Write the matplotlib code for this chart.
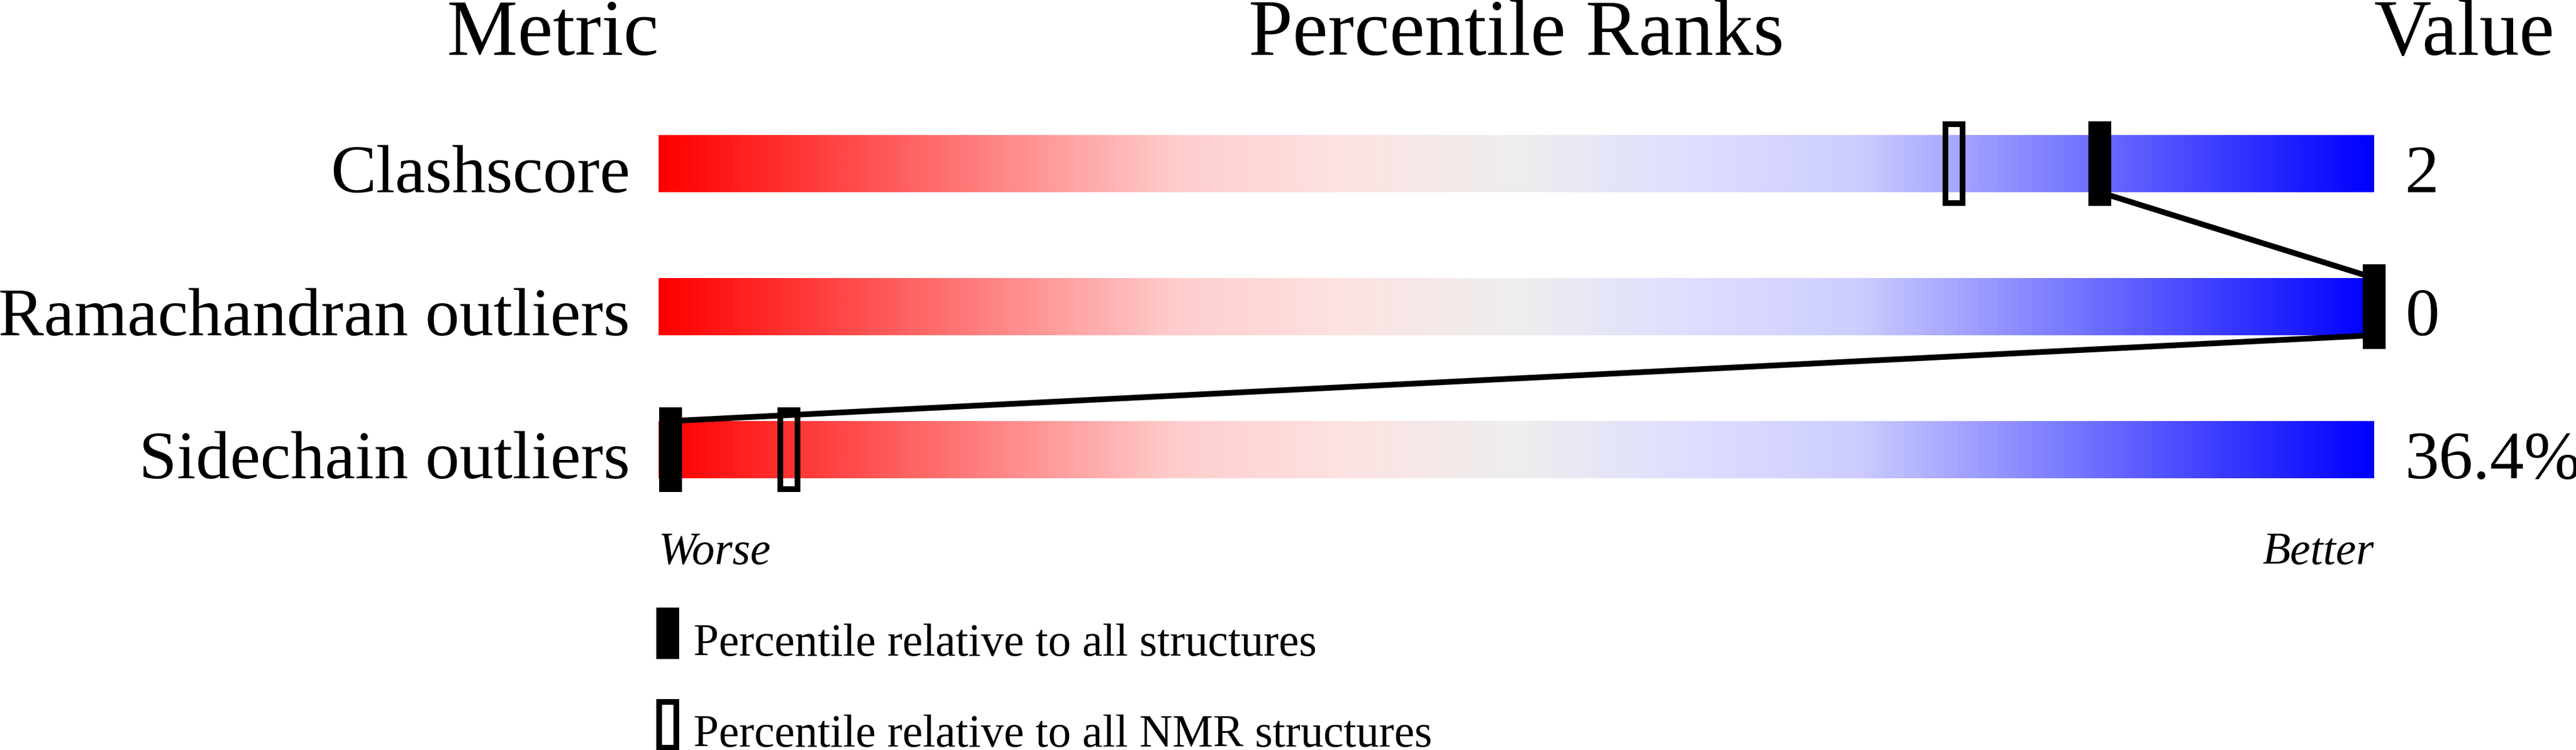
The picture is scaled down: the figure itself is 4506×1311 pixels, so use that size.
import numpy as np
import matplotlib
matplotlib.use("Agg")
import matplotlib.pyplot as plt
from matplotlib.patches import Rectangle
from matplotlib.colors import LinearSegmentedColormap

# ---- data ----
metrics = ["Clashscore", "Ramachandran outliers", "Sidechain outliers"]
values = ["2", "0", "36.4%"]
pct_all = [84, 100, 0.7]
pct_nmr = [75.5, 100, 7.6]
headers = ["Metric", "Percentile Ranks", "Value"]
legend_labels = ["Percentile relative to all structures",
                 "Percentile relative to all NMR structures"]

# ---- figure in pixel-like layout ----
W, H, DPI = 4506, 1311, 100
fig = plt.figure(figsize=(W / DPI, H / DPI), dpi=DPI)
ax = fig.add_axes([0, 0, 1, 1])
ax.axis("off")

bar_l, bar_r = 1152, 4153
pxu = (bar_r - bar_l) / 100.0          # pixels per percentile unit
row0, rowstep = 286, 250              # row centre / spacing in px
ax.set_xlim(-bar_l / pxu, (W - bar_l) / pxu)
ax.set_ylim((H - row0) / rowstep, -row0 / rowstep)

def px_x(n):
    return n / pxu

def px_y(n):
    return n / rowstep

font = "Liberation Serif"
bar_h = px_y(100)
mk_w, mk_h = px_x(40), px_y(148)
lw_px = 10
lw_pt = lw_px * 72 / DPI

cmap = LinearSegmentedColormap.from_list("slider", [
    (0.0, (1.0, 0.0, 0.0)),
    (0.3, (1.0, 205 / 255, 205 / 255)),
    (0.4, (253 / 255, 226 / 255, 226 / 255)),
    (0.5, (238 / 255, 238 / 255, 238 / 255)),
    (0.6, (222 / 255, 222 / 255, 1.0)),
    (0.7, (205 / 255, 205 / 255, 1.0)),
    (1.0, (0.0, 0.0, 1.0)),
])
grad = np.linspace(0, 1, 512).reshape(1, -1)

for i, (m, v) in enumerate(zip(metrics, values)):
    ax.imshow(grad, cmap=cmap, aspect="auto", interpolation="bilinear",
              extent=(0, 100, i + bar_h / 2, i - bar_h / 2), zorder=1)
    ax.text(-px_x(50), i + bar_h / 2, m, ha="right", va="baseline",
            fontsize=86, family=font)
    ax.text(100 + px_x(54), i + bar_h / 2, v, ha="left", va="baseline",
            fontsize=86, family=font)

# connecting line between "all structures" markers
for i in range(len(metrics) - 1):
    ax.plot([pct_all[i], pct_all[i + 1]],
            [i + bar_h / 2, i + 1 - bar_h / 2],
            color="black", lw=lw_pt, solid_capstyle="butt", zorder=2)

for i in range(len(metrics)):
    # NMR (open) marker
    ax.add_patch(Rectangle((pct_nmr[i] - mk_w / 2 + px_x(lw_px / 2), i - mk_h / 2 + px_y(lw_px / 2)),
                           mk_w - px_x(lw_px), mk_h - px_y(lw_px),
                           facecolor="none", edgecolor="black", lw=lw_pt, zorder=3))
    # all structures (filled) marker
    ax.add_patch(Rectangle((pct_all[i] - mk_w / 2, i - mk_h / 2), mk_w, mk_h,
                           facecolor="black", edgecolor="none", zorder=4))

# headers
hy = px_y(96 - row0)
ax.text(0, hy, headers[0], ha="right", va="baseline", fontsize=100, family=font)
ax.text(50, hy, headers[1], ha="center", va="baseline", fontsize=100, family=font)
ax.text(100, hy, headers[2], ha="left", va="baseline", fontsize=100, family=font)

# worse / better
wy = px_y(986 - row0)
ax.text(0, wy, "Worse", ha="left", va="baseline", fontsize=57.5, family=font, style="italic")
ax.text(100, wy, "Better", ha="right", va="baseline", fontsize=57.5, family=font, style="italic")

# legend
lg_x = px_x(1148 - bar_l)
ax.add_patch(Rectangle((lg_x, px_y(1062 - row0)), px_x(40), px_y(90),
                       facecolor="black", edgecolor="none"))
ax.text(px_x(1213 - bar_l), px_y(1146 - row0), legend_labels[0], ha="left",
        va="baseline", fontsize=57.5, family=font)
ax.add_patch(Rectangle((lg_x + px_x(lw_px / 2), px_y(1222 - row0 + lw_px / 2)),
                       px_x(40 - lw_px), px_y(90 - lw_px),
                       facecolor="none", edgecolor="black", lw=lw_pt))
ax.text(px_x(1213 - bar_l), px_y(1305 - row0), legend_labels[1], ha="left",
        va="baseline", fontsize=57.5, family=font)

fig.savefig("out.png", dpi=DPI, facecolor="white")
